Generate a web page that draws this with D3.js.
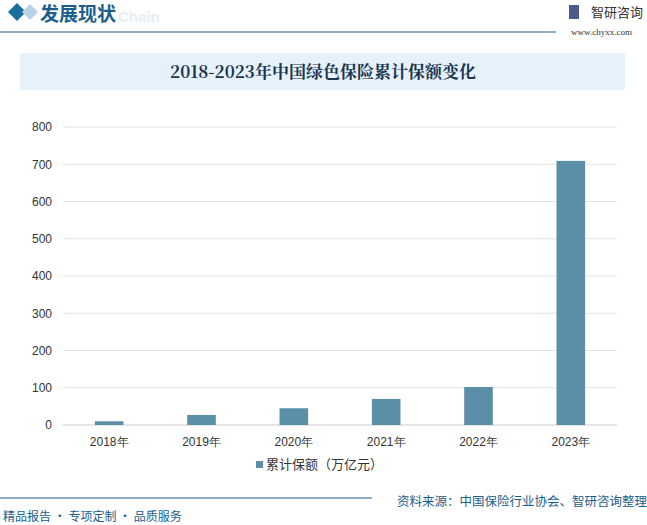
<!DOCTYPE html>
<html><head><meta charset="utf-8">
<script src="https://cdn.jsdelivr.net/npm/d3@7"></script>
<style>body{margin:0;background:#fff}svg{display:block;font-family:"Noto Sans CJK SC","Noto Sans",sans-serif}</style>
</head><body>
<svg id="c" width="647" height="525"></svg>
<script>
const categories=["2018年","2019年","2020年","2021年","2022年","2023年"];
const values=[10,27,45,70,102,709];
const yTicks=[0,100,200,300,400,500,600,700,800];
const seriesName="累计保额（万亿元）";
const svg=d3.select("#c");
const dark="#1b5e8c";
// header
svg.append("path").attr("d","M8,12 L17,3 L26,12 L17,21 Z").attr("fill","#1b6da0");
svg.append("path").attr("d","M22,12 L30,4 L38,12 L30,20 Z").attr("fill","#b9d3e6");
svg.append("text").attr("x",118).attr("y",22).text("Chain").attr("font-size",15).attr("font-weight","bold").attr("fill","#e6eef5").attr("font-family","Arial");
svg.append("text").attr("x",40).attr("y",21).text("发展现状").attr("font-size",19).attr("font-weight","bold").attr("fill",dark);
svg.append("line").attr("x1",0).attr("x2",556).attr("y1",32).attr("y2",32).attr("stroke",dark).attr("stroke-width",1.2);
svg.append("rect").attr("x",569).attr("y",5).attr("width",10).attr("height",14).attr("fill","#4a5a8a");
svg.append("text").attr("x",591).attr("y",17).text("智研咨询").attr("font-size",13).attr("fill","#333");
svg.append("text").attr("x",571).attr("y",35).text("www.chyxx.com").attr("font-size",9).attr("fill","#333").attr("font-family","Liberation Serif");
// title band
svg.append("rect").attr("x",20).attr("y",53).attr("width",605).attr("height",37).attr("fill","#e6f1fa");
svg.append("text").attr("x",323).attr("y",78).attr("text-anchor","middle").text("2018-2023年中国绿色保险累计保额变化").attr("font-size",17).attr("font-weight","bold").attr("fill","#1a3550").attr("font-family","Noto Serif CJK SC,Noto Sans CJK SC,serif");
// plot
const x=d3.scaleBand().domain(categories).range([63,617]).paddingInner(0.69).paddingOuter(0.345);
const y=d3.scaleLinear().domain([0,800]).range([425,127]);
const g=svg.append("g");
yTicks.forEach(t=>{g.append("line").attr("x1",63).attr("x2",617).attr("y1",y(t)).attr("y2",y(t)).attr("stroke",t===0?"#ccc":"#e3e3e3");});
const ya=g.append("g").attr("transform","translate(52,0)").call(d3.axisLeft(y).tickValues(yTicks).tickSize(0).tickPadding(0));
ya.select(".domain").remove();
ya.selectAll("text").attr("font-size",12).attr("fill","#333").attr("font-family","Liberation Sans,Arial");
const xa=g.append("g").attr("transform","translate(0,425)").call(d3.axisBottom(x).tickSize(0).tickPadding(12));
xa.select(".domain").remove();
xa.selectAll("text").attr("font-size",12).attr("fill","#333");
g.selectAll(".bar").data(values).join("rect").attr("x",(d,i)=>x(categories[i])).attr("width",x.bandwidth()).attr("y",d=>y(d)).attr("height",d=>y(0)-y(d)).attr("fill","#5b8fa8");
// legend
svg.append("rect").attr("x",256).attr("y",461).attr("width",7).attr("height",7).attr("fill","#5b8fa8");
svg.append("text").attr("x",266).attr("y",469).text(seriesName).attr("font-size",13).attr("fill","#333");
// footer
svg.append("line").attr("x1",0).attr("x2",372).attr("y1",498).attr("y2",498).attr("stroke",dark).attr("stroke-width",1.2);
svg.append("text").attr("x",647).attr("y",506).attr("text-anchor","end").text("资料来源：中国保险行业协会、智研咨询整理").attr("font-size",12.5).attr("fill",dark);
svg.append("text").attr("x",3).attr("y",521).text("精品报告 · 专项定制 · 品质服务").attr("font-size",12).attr("fill",dark);
</script>
</body></html>
